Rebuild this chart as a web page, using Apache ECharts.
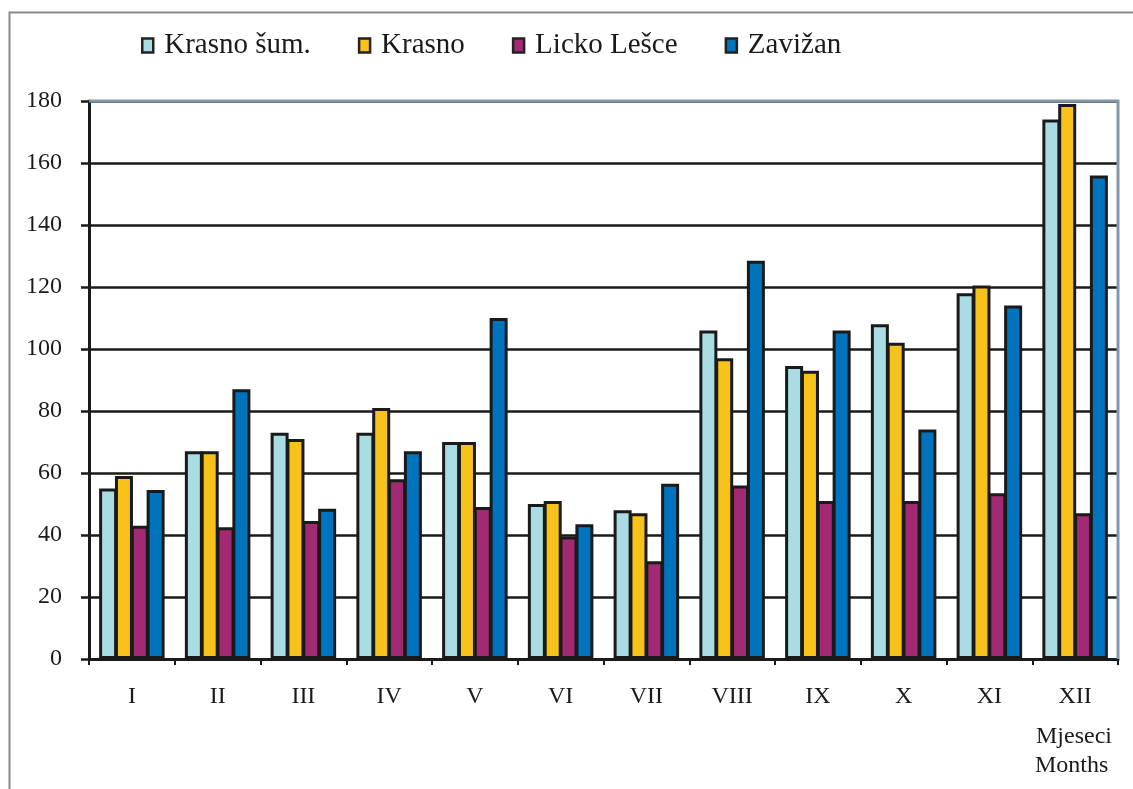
<!DOCTYPE html>
<html>
<head>
<meta charset="utf-8">
<script src="https://cdn.jsdelivr.net/npm/echarts@6/dist/echarts.min.js"></script>
<style>
html,body{margin:0;padding:0;background:#fff;}
#chart{width:1133px;height:789px;}
</style>
</head>
<body>
<div id="chart"></div>
<script>
const months = ['I','II','III','IV','V','VI','VII','VIII','IX','X','XI','XII'];
const seriesNames = ['Krasno šum.','Krasno','Licko Lešce','Zavižan'];
const krasnoSum = [55, 67, 73, 73, 70, 50, 48, 106, 94.5, 108, 118, 174];
const krasno    = [59, 67, 71, 81, 70, 51, 47, 97, 93, 102, 120.5, 179];
const lickoLesce = [43, 42.5, 44.5, 58, 49, 39.5, 31.5, 56, 51, 51, 53.5, 47];
const zavizan   = [54.5, 87, 48.5, 67, 110, 43.5, 56.5, 128.5, 106, 74, 114, 156];
const yTicks = [0, 20, 40, 60, 80, 100, 120, 140, 160, 180];
const colors = ['#A9DCE3', '#F7C21A', '#A22A72', '#0073BD'];
const values = [krasnoSum, krasno, lickoLesce, zavizan];

const FONT = '"Liberation Serif", "DejaVu Serif", serif';
const TXT = '#1a1a1a';

const chart = echarts.init(document.getElementById('chart'), null, {renderer: 'canvas'});
chart.setOption({
  backgroundColor: '#ffffff',
  animation: false,
  color: colors,
  textStyle: {fontFamily: FONT},
  legend: {
    top: 26,
    left: 136,
    itemWidth: 11,
    itemHeight: 14,
    itemGap: 47,
    icon: 'rect',
    itemStyle: {borderColor: '#222', borderWidth: 2.5},
    textStyle: {fontFamily: FONT, fontSize: 29, color: TXT, padding: [0, 0, 0, 6]},
    data: seriesNames
  },
  grid: {left: 89, right: 15, top: 101, bottom: 130, containLabel: false},
  xAxis: {
    type: 'category',
    data: months,
    boundaryGap: true,
    axisLine: {show: true, lineStyle: {color: '#1a1a1a', width: 3}},
    axisTick: {show: true, alignWithLabel: false, length: 6, lineStyle: {color: '#1a1a1a', width: 2}},
    axisLabel: {fontFamily: FONT, fontSize: 24, color: TXT, margin: 26},
    splitLine: {show: false}
  },
  yAxis: {
    type: 'value',
    min: 0,
    max: 180,
    interval: 20,
    axisLine: {show: true, lineStyle: {color: '#1a1a1a', width: 3}},
    axisTick: {show: true, length: 8, lineStyle: {color: '#1a1a1a', width: 2.5}},
    axisLabel: {fontFamily: FONT, fontSize: 24, color: TXT, margin: 27,
      formatter: v => yTicks.indexOf(v) >= 0 ? String(v) : ''},
    splitLine: {show: true, lineStyle: {color: '#1a1a1a', width: 2.5}}
  },
  series: seriesNames.map((name, i) => ({
    name: name,
    type: 'bar',
    data: values[i],
    barWidth: 18,
    barGap: '-12%',
    itemStyle: {color: colors[i], borderColor: '#1a1a1a', borderWidth: 3}
  }))
});
// plot-area top and right border, placed through the axis scale
const topY = chart.convertToPixel({yAxisIndex: 0}, 180);
const zeroY = chart.convertToPixel({yAxisIndex: 0}, 0);
const leftX = chart.convertToPixel({xAxisIndex: 0}, 0) - (chart.convertToPixel({xAxisIndex: 0}, 1) - chart.convertToPixel({xAxisIndex: 0}, 0)) / 2;
const rightX = 1133 - 15;
chart.setOption({
  graphic: [
    {type: 'rect', left: 7, top: 10, silent: true, z: -10,
      shape: {width: 1140, height: 800}, style: {fill: 'none', stroke: '#8a8a8a', lineWidth: 2}},
    {type: 'text', left: 1036, top: 725, style: {text: 'Mjeseci', font: '24px ' + FONT, fill: TXT}},
    {type: 'text', left: 1035, top: 754, style: {text: 'Months', font: '24px ' + FONT, fill: TXT}},
    {type: 'polyline', silent: true, z: 1,
      shape: {points: [[leftX, topY], [rightX, topY], [rightX, zeroY]]},
      style: {stroke: '#8497a6', lineWidth: 3, fill: 'none'}}
  ]
});
</script>
</body>
</html>
